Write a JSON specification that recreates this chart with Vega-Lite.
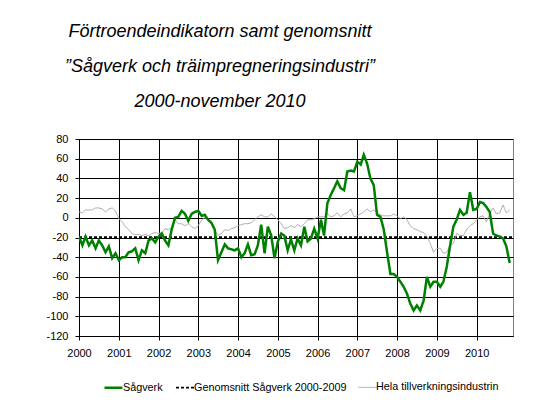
{
"$schema": "https://vega.github.io/schema/vega-lite/v6.json",
"width": 434, "height": 197,
"autosize": "none",
"padding": {"left": 79, "top": 139, "right": 22, "bottom": 76},
"background": "white",
"config": {"view": {"stroke": "#808080", "strokeWidth": 1}},
"title": {"text": ["Förtroendeindikatorn samt genomsnitt", "”Sågverk och träimpregneringsindustri”", "2000-november 2010"], "font": "Liberation Sans", "fontStyle": "italic", "fontWeight": "normal", "fontSize": 18, "lineHeight": 35, "anchor": "middle", "dx": -76, "offset": 22, "color": "black"},
"data": {"values": [
{"d":"2000-01-01","s":-19,"h":6},{"d":"2000-02-01","s":-28,"h":5},{"d":"2000-03-01","s":-19,"h":8},{"d":"2000-04-01","s":-28,"h":8},{"d":"2000-05-01","s":-23,"h":8},{"d":"2000-06-01","s":-31,"h":10},{"d":"2000-07-01","s":-23,"h":10},{"d":"2000-08-01","s":-28,"h":9},{"d":"2000-09-01","s":-35,"h":6},{"d":"2000-10-01","s":-29,"h":9},{"d":"2000-11-01","s":-41,"h":10},{"d":"2000-12-01","s":-36,"h":7},
{"d":"2001-01-01","s":-43,"h":-1},{"d":"2001-02-01","s":-40,"h":-4},{"d":"2001-03-01","s":-40,"h":-9},{"d":"2001-04-01","s":-35,"h":-12},{"d":"2001-05-01","s":-34,"h":-16},{"d":"2001-06-01","s":-31,"h":-17},{"d":"2001-07-01","s":-43,"h":-17},{"d":"2001-08-01","s":-33,"h":-18},{"d":"2001-09-01","s":-36,"h":-17},{"d":"2001-10-01","s":-23,"h":-18},{"d":"2001-11-01","s":-21,"h":-16},{"d":"2001-12-01","s":-25,"h":-15},
{"d":"2002-01-01","s":-19,"h":-16},{"d":"2002-02-01","s":-16,"h":-15},{"d":"2002-03-01","s":-23,"h":-11},{"d":"2002-04-01","s":-28,"h":-12},{"d":"2002-05-01","s":-12,"h":-10},{"d":"2002-06-01","s":0,"h":-2},{"d":"2002-07-01","s":1,"h":-6},{"d":"2002-08-01","s":7,"h":-6},{"d":"2002-09-01","s":4,"h":-8},{"d":"2002-10-01","s":-3,"h":-6},{"d":"2002-11-01","s":4,"h":-9},{"d":"2002-12-01","s":6,"h":-11},
{"d":"2003-01-01","s":7,"h":-8},{"d":"2003-02-01","s":2,"h":-2},{"d":"2003-03-01","s":3,"h":0},{"d":"2003-04-01","s":-2,"h":-2},{"d":"2003-05-01","s":-5,"h":-6},{"d":"2003-06-01","s":-12,"h":-12},{"d":"2003-07-01","s":-43,"h":-18},{"d":"2003-08-01","s":-35,"h":-16},{"d":"2003-09-01","s":-27,"h":-12},{"d":"2003-10-01","s":-31,"h":-13},{"d":"2003-11-01","s":-32,"h":-11},{"d":"2003-12-01","s":-33,"h":-10},
{"d":"2004-01-01","s":-31,"h":-8},{"d":"2004-02-01","s":-40,"h":-7},{"d":"2004-03-01","s":-36,"h":-6},{"d":"2004-04-01","s":-27,"h":-6},{"d":"2004-05-01","s":-38,"h":-5},{"d":"2004-06-01","s":-37,"h":-2},{"d":"2004-07-01","s":-28,"h":1},{"d":"2004-08-01","s":-7,"h":3},{"d":"2004-09-01","s":-36,"h":1},{"d":"2004-10-01","s":-9,"h":1},{"d":"2004-11-01","s":-18,"h":4},{"d":"2004-12-01","s":-41,"h":1},
{"d":"2005-01-01","s":-24,"h":-2},{"d":"2005-02-01","s":-16,"h":-6},{"d":"2005-03-01","s":-18,"h":-11},{"d":"2005-04-01","s":-33,"h":-10},{"d":"2005-05-01","s":-22,"h":-8},{"d":"2005-06-01","s":-33,"h":-10},{"d":"2005-07-01","s":-21,"h":-7},{"d":"2005-08-01","s":-28,"h":-9},{"d":"2005-09-01","s":-9,"h":-6},{"d":"2005-10-01","s":-24,"h":-2},{"d":"2005-11-01","s":-21,"h":-2},{"d":"2005-12-01","s":-11,"h":-1},
{"d":"2006-01-01","s":-21,"h":1},{"d":"2006-02-01","s":-2,"h":1},{"d":"2006-03-01","s":-18,"h":1},{"d":"2006-04-01","s":15,"h":4},{"d":"2006-05-01","s":23,"h":1},{"d":"2006-06-01","s":30,"h":2},{"d":"2006-07-01","s":37,"h":5},{"d":"2006-08-01","s":30,"h":1},{"d":"2006-09-01","s":28,"h":4},{"d":"2006-10-01","s":47,"h":5},{"d":"2006-11-01","s":48,"h":9},{"d":"2006-12-01","s":47,"h":1},
{"d":"2007-01-01","s":57,"h":2},{"d":"2007-02-01","s":54,"h":4},{"d":"2007-03-01","s":64,"h":6},{"d":"2007-04-01","s":55,"h":9},{"d":"2007-05-01","s":40,"h":6},{"d":"2007-06-01","s":33,"h":8},{"d":"2007-07-01","s":3,"h":5},{"d":"2007-08-01","s":1,"h":3},{"d":"2007-09-01","s":-12,"h":2},{"d":"2007-10-01","s":-35,"h":2},{"d":"2007-11-01","s":-57,"h":2},{"d":"2007-12-01","s":-57,"h":4},
{"d":"2008-01-01","s":-60,"h":2},{"d":"2008-02-01","s":-65,"h":-1},{"d":"2008-03-01","s":-70,"h":1},{"d":"2008-04-01","s":-77,"h":-2},{"d":"2008-05-01","s":-87,"h":-8},{"d":"2008-06-01","s":-94,"h":-11},{"d":"2008-07-01","s":-89,"h":-12},{"d":"2008-08-01","s":-94,"h":-14},{"d":"2008-09-01","s":-84,"h":-15},{"d":"2008-10-01","s":-60,"h":-19},{"d":"2008-11-01","s":-70,"h":-26},{"d":"2008-12-01","s":-65,"h":-35},
{"d":"2009-01-01","s":-65,"h":-31},{"d":"2009-02-01","s":-70,"h":-31},{"d":"2009-03-01","s":-65,"h":-36},{"d":"2009-04-01","s":-50,"h":-35},{"d":"2009-05-01","s":-29,"h":-28},{"d":"2009-06-01","s":-9,"h":-26},{"d":"2009-07-01","s":-2,"h":-16},{"d":"2009-08-01","s":8,"h":-18},{"d":"2009-09-01","s":3,"h":-18},{"d":"2009-10-01","s":5,"h":-12},{"d":"2009-11-01","s":26,"h":-8},{"d":"2009-12-01","s":8,"h":-6},
{"d":"2010-01-01","s":9,"h":-2},{"d":"2010-02-01","s":16,"h":1},{"d":"2010-03-01","s":15,"h":2},{"d":"2010-04-01","s":11,"h":-4},{"d":"2010-05-01","s":6,"h":4},{"d":"2010-06-01","s":-16,"h":10},{"d":"2010-07-01","s":-18,"h":4},{"d":"2010-08-01","s":-19,"h":5},{"d":"2010-09-01","s":-21,"h":13},{"d":"2010-10-01","s":-29,"h":5},{"d":"2010-11-01","s":-46,"h":8}
]},
"layer": [
{"data": {"values": [{"z": 0}]}, "mark": {"type": "rule", "color": "black", "strokeWidth": 1.5}, "encoding": {"y": {"field": "z", "type": "quantitative"}}},
{"data": {"values": [{"d":"2000-01-01","g":-19.5},{"d":"2010-12-01","g":-19.5}]},
 "transform": [{"fold": ["g"], "as": ["serie", "v"]}],
 "mark": {"type": "line", "clip": true},
 "encoding": {
  "x": {"field": "d", "type": "temporal"},
  "y": {"field": "v", "type": "quantitative"},
  "color": {"field": "serie", "type": "nominal"},
  "strokeDash": {"field": "serie", "type": "nominal"},
  "strokeWidth": {"field": "serie", "type": "nominal"}}},
{"transform": [{"fold": ["h"], "as": ["serie", "v"]}],
 "mark": {"type": "line", "clip": true},
 "encoding": {
  "x": {"field": "d", "type": "temporal"},
  "y": {"field": "v", "type": "quantitative"},
  "color": {"field": "serie", "type": "nominal"},
  "strokeDash": {"field": "serie", "type": "nominal"},
  "strokeWidth": {"field": "serie", "type": "nominal"}}},
{"transform": [{"fold": ["s"], "as": ["serie", "v"]}],
 "mark": {"type": "line", "clip": true},
 "encoding": {
  "x": {"field": "d", "type": "temporal"},
  "y": {"field": "v", "type": "quantitative"},
  "color": {"field": "serie", "type": "nominal"},
  "strokeDash": {"field": "serie", "type": "nominal"},
  "strokeWidth": {"field": "serie", "type": "nominal"}}}
],
"resolve": {"scale": {"color": "shared", "strokeDash": "shared", "strokeWidth": "shared"}},
"encoding": {
 "x": {"field": "d", "type": "temporal",
  "scale": {"type": "utc", "domain": [{"year": 2000, "month": 1, "date": 1, "utc": true}, {"year": 2010, "month": 12, "date": 1, "utc": true}]},
  "axis": {"title": null, "format": "%Y", "tickCount": {"interval": "year", "step": 1}, "grid": true, "gridColor": "black", "gridWidth": 1, "gridOpacity": 1, "domainColor": "black", "tickColor": "black", "tickSize": 4, "labelFont": "Liberation Sans", "labelFontSize": 11, "labelColor": "black", "labelPadding": 7, "labelFlush": false, "labelAngle": 0, "labelOverlap": false}},
 "y": {"field": "v", "type": "quantitative",
  "scale": {"domain": [-120, 80], "nice": false, "zero": false},
  "axis": {"title": null, "values": [-120,-100,-80,-60,-40,-20,0,20,40,60,80], "labelExpr": "'' + datum.value", "grid": true, "gridColor": "black", "gridWidth": 1, "gridOpacity": 1, "domainColor": "black", "tickColor": "black", "tickSize": 4, "labelFont": "Liberation Sans", "labelFontSize": 11, "labelColor": "black", "labelPadding": 7}},
 "color": {"field": "serie", "type": "nominal",
  "scale": {"domain": ["s", "g", "h"], "range": ["#008000", "#000000", "#a6a6a6"]},
  "legend": {"title": null, "orient": "none", "legendX": 24, "legendY": 238, "direction": "horizontal", "symbolType": "stroke", "symbolSize": 324, "labelFont": "Liberation Sans", "labelFontSize": 10.8, "labelColor": "black", "labelOffset": -1, "columnPadding": 9, "labelLimit": 300,
   "labelExpr": "datum.value == 's' ? 'Sågverk' : datum.value == 'g' ? 'Genomsnitt Sågverk 2000-2009' : 'Hela tillverkningsindustrin'"}},
 "strokeDash": {"field": "serie", "type": "nominal",
  "scale": {"domain": ["s", "g", "h"], "range": [[1, 0], [3, 2], [1, 0]]},
  "legend": {"title": null, "orient": "none", "legendX": 24, "legendY": 238, "direction": "horizontal", "symbolType": "stroke", "symbolSize": 324, "labelFont": "Liberation Sans", "labelFontSize": 10.8, "labelColor": "black", "labelOffset": -1, "columnPadding": 9, "labelLimit": 300,
   "labelExpr": "datum.value == 's' ? 'Sågverk' : datum.value == 'g' ? 'Genomsnitt Sågverk 2000-2009' : 'Hela tillverkningsindustrin'"}},
 "strokeWidth": {"field": "serie", "type": "nominal",
  "scale": {"domain": ["s", "g", "h"], "range": [2.5, 1, 1]},
  "legend": {"title": null, "orient": "none", "legendX": 24, "legendY": 238, "direction": "horizontal", "symbolType": "stroke", "symbolSize": 324, "labelFont": "Liberation Sans", "labelFontSize": 10.8, "labelColor": "black", "labelOffset": -1, "columnPadding": 9, "labelLimit": 300,
   "labelExpr": "datum.value == 's' ? 'Sågverk' : datum.value == 'g' ? 'Genomsnitt Sågverk 2000-2009' : 'Hela tillverkningsindustrin'"}}
}
}
